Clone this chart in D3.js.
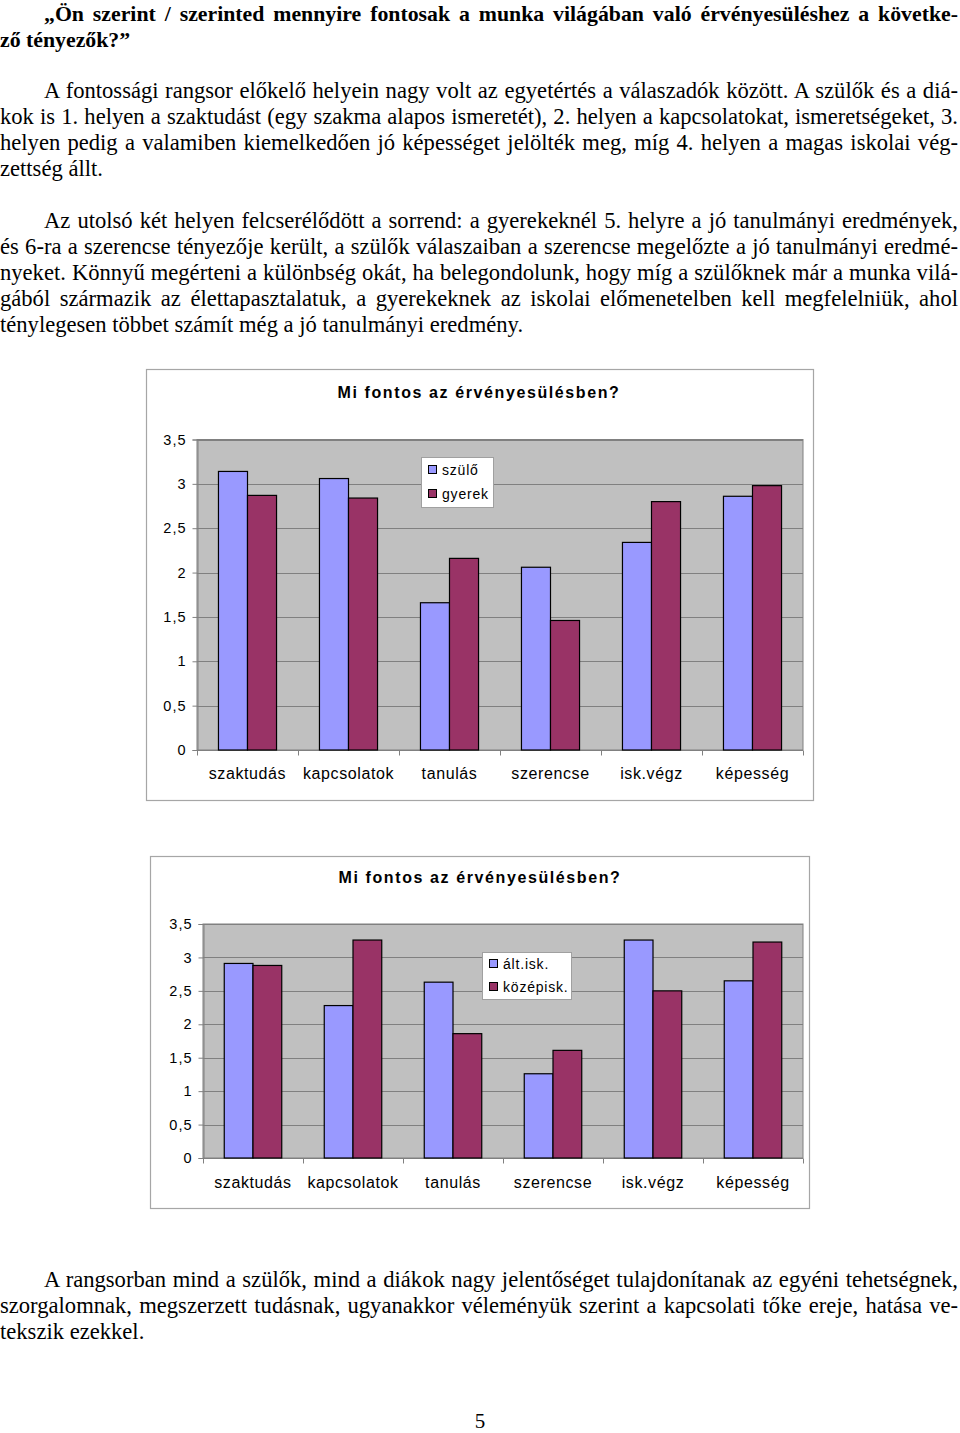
<!DOCTYPE html>
<html><head><meta charset="utf-8">
<script src="https://cdn.jsdelivr.net/npm/d3@7"></script>
<style>
html,body{margin:0;padding:0;background:#fff;}
svg{display:block;}
</style></head>
<body>
<script>
// ---------- DATA ----------
const categories = ["szaktudás","kapcsolatok","tanulás","szerencse","isk.végz","képesség"];
const chart1Series = ["szülő","gyerek"];
const chart1Szulo  = [3.14, 3.06, 1.66, 2.06, 2.34, 2.86];
const chart1Gyerek = [2.87, 2.84, 2.16, 1.46, 2.80, 2.98];
const chart2Series = ["ált.isk.","középisk."];
const chart2Alt    = [2.91, 2.28, 2.63, 1.26, 3.26, 2.65];
const chart2Kozep  = [2.88, 3.26, 1.86, 1.61, 2.50, 3.23];
const yTicks = [0, 0.5, 1, 1.5, 2, 2.5, 3, 3.5];
const yTickLabels = ["0","0,5","1","1,5","2","2,5","3","3,5"];
const chartTitle = "Mi fontos az érvényesülésben?";

const heading = [
  {t:"„Ön szerint / szerinted mennyire fontosak a munka világában való érvényesüléshez a követke-", indent:true, just:true},
  {t:"ző tényezők?”", indent:false, just:false}
];
const para1 = [
  {t:"A fontossági rangsor előkelő helyein nagy volt az egyetértés a válaszadók között. A szülők és a diá-", indent:true, just:true},
  {t:"kok is 1. helyen a szaktudást (egy szakma alapos ismeretét), 2. helyen a kapcsolatokat, ismeretségeket, 3.", indent:false, just:true},
  {t:"helyen pedig a valamiben kiemelkedően jó képességet jelölték meg, míg 4. helyen a magas iskolai vég-", indent:false, just:true},
  {t:"zettség állt.", indent:false, just:false}
];
const para2 = [
  {t:"Az utolsó két helyen felcserélődött a sorrend: a gyerekeknél 5. helyre a jó tanulmányi eredmények,", indent:true, just:true},
  {t:"és 6-ra a szerencse tényezője került, a szülők válaszaiban a szerencse megelőzte a jó tanulmányi eredmé-", indent:false, just:true},
  {t:"nyeket. Könnyű megérteni a különbség okát, ha belegondolunk, hogy míg a szülőknek már a munka vilá-", indent:false, just:true},
  {t:"gából származik az élettapasztalatuk, a gyerekeknek az iskolai előmenetelben kell megfelelniük, ahol", indent:false, just:true},
  {t:"ténylegesen többet számít még a jó tanulmányi eredmény.", indent:false, just:false}
];
const para3 = [
  {t:"A rangsorban mind a szülők, mind a diákok nagy jelentőséget tulajdonítanak az egyéni tehetségnek,", indent:true, just:true},
  {t:"szorgalomnak, megszerzett tudásnak, ugyanakkor véleményük szerint a kapcsolati tőke ereje, hatása ve-", indent:false, just:true},
  {t:"tekszik ezekkel.", indent:false, just:false}
];
const pageNumber = "5";

const colors = ["#9999ff", "#993366"];

// ---------- PAGE ----------
const W = 960, H = 1433;
const svg = d3.select("body").append("svg").attr("width", W).attr("height", H);

const TEXT_LEFT = 0, TEXT_RIGHT = 958, INDENT = 44, FS = 22.6;
function drawLines(lines, y0, bold, fs) {
  lines.forEach((ln, i) => {
    const x = TEXT_LEFT + (ln.indent ? INDENT : 0);
    const t = svg.append("text")
      .attr("x", x).attr("y", y0 + i * 26)
      .attr("font-family", "'Liberation Serif','Times New Roman',serif")
      .attr("font-size", fs)
      .attr("font-weight", bold ? "bold" : "normal")
      .attr("fill", "#000")
      .style("white-space", "pre")
      .text(ln.t);
    if (ln.just) {
      const nat = t.node().getComputedTextLength();
      const spaces = (ln.t.match(/ /g) || []).length;
      const target = TEXT_RIGHT - x;
      if (spaces > 0) t.attr("word-spacing", (target - nat) / spaces);
    }
  });
}
drawLines(heading, 21, true, 21.8);
drawLines(para1, 98, false, FS);
drawLines(para2, 228, false, FS);
drawLines(para3, 1287, false, FS);
svg.append("text").attr("x", 480).attr("y", 1428).attr("text-anchor", "middle")
  .attr("font-family", "'Liberation Serif','Times New Roman',serif").attr("font-size", 21)
  .text(pageNumber);

// ---------- CHARTS ----------
function drawChart(cfg) {
  const g = svg.append("g");
  g.append("rect").attr("x", cfg.box[0] + 0.5).attr("y", cfg.box[1] + 0.5)
    .attr("width", cfg.box[2] - cfg.box[0]).attr("height", cfg.box[3] - cfg.box[1])
    .attr("fill", "#fff").attr("stroke", "#a6a6a6").attr("stroke-width", 1.2);
  g.append("text").attr("x", cfg.titleX).attr("y", cfg.titleY).attr("text-anchor", "middle")
    .attr("font-family", "'Liberation Sans',Arial,sans-serif").attr("font-size", 16)
    .attr("font-weight", "bold").attr("letter-spacing", 1.6).text(chartTitle);

  const y = d3.scaleLinear().domain([0, 3.5]).range([cfg.plot.bottom, cfg.plot.top]);
  const x0 = d3.scaleBand().domain(categories).range([cfg.plot.left, cfg.plot.right]).padding(0);
  const groupW = x0.bandwidth() * 0.575;
  const x1 = d3.scaleBand().domain(cfg.series).range([0, groupW]).padding(0);

  g.append("rect").attr("x", cfg.plot.left).attr("y", cfg.plot.top)
    .attr("width", cfg.plot.right - cfg.plot.left).attr("height", cfg.plot.bottom - cfg.plot.top)
    .attr("fill", "#c0c0c0").attr("stroke", "#808080").attr("stroke-width", 1);
  g.selectAll(".grid").data(yTicks.filter(d => d > 0)).enter().append("line")
    .attr("x1", cfg.plot.left).attr("x2", cfg.plot.right)
    .attr("y1", d => Math.round(y(d)) + 0.5).attr("y2", d => Math.round(y(d)) + 0.5)
    .attr("stroke", "#808080").attr("stroke-width", 1);

  const yAxis = d3.axisLeft(y).tickValues(yTicks)
    .tickFormat((d, i) => yTickLabels[i]).tickSize(5).tickPadding(6);
  const ya = g.append("g").attr("transform", `translate(${cfg.plot.left + 0.5},0)`).call(yAxis);
  ya.select(".domain").attr("stroke", "#808080");
  ya.selectAll(".tick line").attr("stroke", "#808080");
  ya.selectAll(".tick text").attr("font-family", "'Liberation Sans',Arial,sans-serif")
    .attr("font-size", 14.5).attr("letter-spacing", 1).attr("fill", "#000");

  const xa = g.append("g").attr("transform", `translate(0,${cfg.plot.bottom + 0.5})`);
  xa.append("line").attr("x1", cfg.plot.left).attr("x2", cfg.plot.right)
    .attr("stroke", "#808080");
  const bounds = categories.map(c => x0(c)).concat([cfg.plot.right]);
  xa.selectAll(".xt").data(bounds).enter().append("line")
    .attr("x1", d => Math.round(d) + 0.5).attr("x2", d => Math.round(d) + 0.5)
    .attr("y1", 0).attr("y2", 5).attr("stroke", "#808080");
  xa.selectAll(".xl").data(categories).enter().append("text")
    .attr("x", d => x0(d) + x0.bandwidth() / 2).attr("y", cfg.catLabelDy)
    .attr("text-anchor", "middle")
    .attr("font-family", "'Liberation Sans',Arial,sans-serif").attr("font-size", 16)
    .attr("letter-spacing", 0.6).attr("fill", "#000")
    .text(d => d);

  const rows = categories.map((c, i) => ({cat: c, vals: cfg.series.map((s, j) => ({s, v: cfg.values[j][i], j}))}));
  const grp = g.selectAll(".bg").data(rows).enter().append("g")
    .attr("transform", d => `translate(${x0(d.cat) + (x0.bandwidth() - groupW) / 2},0)`);
  grp.selectAll("rect").data(d => d.vals).enter().append("rect")
    .attr("x", d => x1(d.s)).attr("width", x1.bandwidth())
    .attr("y", d => y(d.v)).attr("height", d => y(0) - y(d.v))
    .attr("fill", d => colors[d.j]).attr("stroke", "#000").attr("stroke-width", 1.2);

  const L = cfg.legend;
  g.append("rect").attr("x", L.x + 0.5).attr("y", L.y + 0.5).attr("width", L.w).attr("height", L.h)
    .attr("fill", "#fff").attr("stroke", "#a0a0a0").attr("stroke-width", 1);
  cfg.series.forEach((s, j) => {
    const by = L.y + L.firstBase + j * L.step;
    g.append("rect").attr("x", L.x + 7.5).attr("y", by - 9.5).attr("width", 8).attr("height", 8)
      .attr("fill", colors[j]).attr("stroke", "#000").attr("stroke-width", 1);
    g.append("text").attr("x", L.x + L.textDx).attr("y", by)
      .attr("font-family", "'Liberation Sans',Arial,sans-serif").attr("font-size", 14)
      .attr("letter-spacing", 0.8).text(s);
  });
}

drawChart({
  box: [146, 369, 813, 800],
  titleX: 479, titleY: 398,
  plot: {left: 197, right: 803, top: 439.5, bottom: 750},
  catLabelDy: 28,
  series: chart1Series,
  values: [chart1Szulo, chart1Gyerek],
  legend: {x: 421, y: 457, w: 72, h: 50, firstBase: 18, step: 24, textDx: 21}
});

drawChart({
  box: [150, 856, 809, 1208],
  titleX: 480, titleY: 883,
  plot: {left: 203, right: 803, top: 924, bottom: 1158},
  catLabelDy: 29,
  series: chart2Series,
  values: [chart2Alt, chart2Kozep],
  legend: {x: 482, y: 952, w: 89, h: 47, firstBase: 17, step: 23, textDx: 21}
});
</script>
</body></html>
